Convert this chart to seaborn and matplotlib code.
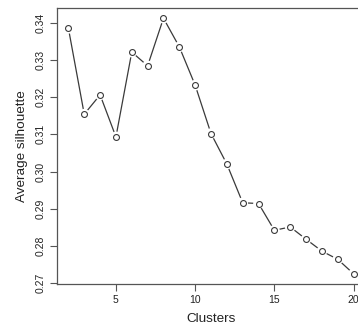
import matplotlib
matplotlib.use("Agg")
import matplotlib.pyplot as plt
import seaborn as sns
import pandas as pd

clusters = [2, 3, 4, 5, 6, 7, 8, 9, 10, 11, 12, 13, 14, 15, 16, 17, 18, 19, 20]
avg_silhouette = [0.3385, 0.3154, 0.3206, 0.3093, 0.3321, 0.3284, 0.3412, 0.3335,
                  0.3232, 0.3102, 0.3020, 0.2916, 0.2914, 0.2842, 0.2851, 0.2818,
                  0.2786, 0.2764, 0.2725]
x_ticks = [5, 10, 15, 20]
y_ticks = [0.27, 0.28, 0.29, 0.30, 0.31, 0.32, 0.33, 0.34]
y_tick_labels = ["0.27", "0.28", "0.29", "0.30", "0.31", "0.32", "0.33", "0.34"]

df = pd.DataFrame({"Clusters": clusters, "Average silhouette": avg_silhouette})

sns.set_theme(style="white")
plt.rcParams["font.family"] = ["Liberation Sans", "DejaVu Sans"]

fig = plt.figure(figsize=(3.58, 3.31), dpi=100)
ax = fig.add_axes([0.1592, 0.1429, 0.8604, 0.8329])

line_col = "#3a3a3a"
sns.lineplot(data=df, x="Clusters", y="Average silhouette", ax=ax,
             color=line_col, linewidth=0.9, zorder=1)
# white halos leave a small gap between line and point, like type="b"
sns.scatterplot(data=df, x="Clusters", y="Average silhouette", ax=ax,
                s=60, color="white", edgecolor="none", linewidth=0, zorder=2)
sns.scatterplot(data=df, x="Clusters", y="Average silhouette", ax=ax,
                s=18, facecolor="white", edgecolor=line_col, linewidth=0.8,
                zorder=3)

ax.set_xlim(1.28, 20.72)
ax.set_ylim(0.26985, 0.34394)
ax.set_xticks(x_ticks)
ax.set_xticklabels([str(t) for t in x_ticks])
ax.set_yticks(y_ticks)
ax.set_yticklabels(y_tick_labels, rotation=90, va="center")

ax.tick_params(axis="both", which="major", direction="out", length=5,
               width=0.8, color="#555555", labelsize=7.5, labelcolor="#222222",
               bottom=True, left=True, pad=3)
for s in ax.spines.values():
    s.set_visible(True)
    s.set_color("#555555")
    s.set_linewidth(0.9)

ax.set_xlabel("Clusters", fontsize=9.7, color="#222222", labelpad=6)
ax.set_ylabel("Average silhouette", fontsize=9.7, color="#222222", labelpad=6)

fig.savefig("out.png", dpi=100)
